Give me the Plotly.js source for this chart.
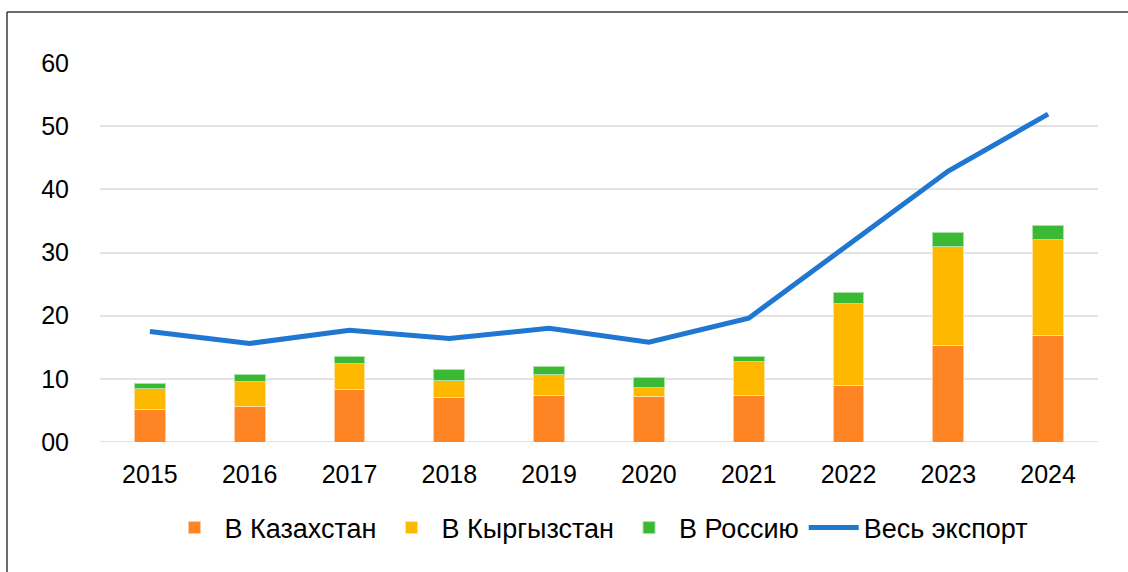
<!DOCTYPE html>
<html>
<head>
<meta charset="utf-8">
<script src="https://cdn.plot.ly/plotly-3.0.1.min.js"></script>
<style>html,body{margin:0;padding:0;background:#fff;}#chart{width:1128px;height:572px;}</style>
</head>
<body>
<div id="chart"></div>
<script>
const years = ['2015','2016','2017','2018','2019','2020','2021','2022','2023','2024'];
const kazakhstan = [5.2, 5.6, 8.3, 7.0, 7.3, 7.2, 7.4, 9.0, 15.2, 16.9];
const kyrgyzstan = [3.2, 3.9, 4.1, 2.8, 3.4, 1.5, 5.4, 13.0, 15.7, 15.2];
const russia     = [0.8, 1.2, 1.1, 1.6, 1.3, 1.5, 0.7, 1.6, 2.3, 2.1];
const totalExport = [17.5, 15.6, 17.7, 16.4, 18.0, 15.8, 19.6, 31.2, 42.9, 51.9];
const yTickVals = [0, 10, 20, 30, 40, 50, 60];
const yTickText = ['00', '10', '20', '30', '40', '50', '60'];
const seriesNames = ['В Казахстан', 'В Кыргызстан', 'В Россию', 'Весь экспорт'];

const font = {family: 'Liberation Sans, Arial, sans-serif', size: 25, color: '#000'};
const legendFont = {family: 'Liberation Sans, Arial, sans-serif', size: 27, color: '#000'};
const barW = 0.31;
const traces = [
  {type: 'bar', name: seriesNames[0], x: years, y: kazakhstan, width: barW,
   marker: {color: '#FF8424', line: {color: '#FFC9A0', width: 1}}},
  {type: 'bar', name: seriesNames[1], x: years, y: kyrgyzstan, width: barW,
   marker: {color: '#FFB800', line: {color: '#FFE29A', width: 1}}},
  {type: 'bar', name: seriesNames[2], x: years, y: russia, width: barW,
   marker: {color: '#3CB934', line: {color: '#A8E2A4', width: 1}}},
  {type: 'scatter', mode: 'lines', name: seriesNames[3], x: years, y: totalExport,
   line: {color: '#1F77D2', width: 5}}
];

const layout = {
  width: 1128, height: 572,
  margin: {l: 100, r: 30, t: 63, b: 130},
  barmode: 'stack',
  paper_bgcolor: '#fff', plot_bgcolor: '#fff',
  font: font,
  showlegend: true,
  legend: {orientation: 'h', x: 0.5, xanchor: 'center', y: -0.227, yanchor: 'middle',
           font: legendFont, traceorder: 'normal', itemwidth: 50},
  xaxis: {type: 'category', showgrid: false, zeroline: false, showline: false,
          ticks: '', tickfont: font, ticklabelstandoff: 15},
  yaxis: {range: [0, 60], tickvals: yTickVals, ticktext: yTickText, showgrid: true,
          gridcolor: '#E3E3E3', gridwidth: 2, zeroline: false, showline: false,
          ticks: '', tickfont: font, ticklabelstandoff: 30},
  shapes: [
    {type: 'line', xref: 'paper', yref: 'paper', x0: -0.0932, x1: 1.1, y0: 1.1346, y1: 1.1346,
     line: {color: '#3A3A3A', width: 1.5}},
    {type: 'line', xref: 'paper', yref: 'paper', x0: -0.0932, x1: -0.0932, y0: 1.1346, y1: -0.4,
     line: {color: '#3A3A3A', width: 1.5}},
    {type: 'line', xref: 'paper', yref: 'y', x0: 0, x1: 1, y0: 0, y1: 0, layer: 'below',
     line: {color: '#E3E3E3', width: 2}}
  ]
};

Plotly.newPlot('chart', traces, layout, {displayModeBar: false, staticPlot: true});
</script>
</body>
</html>
